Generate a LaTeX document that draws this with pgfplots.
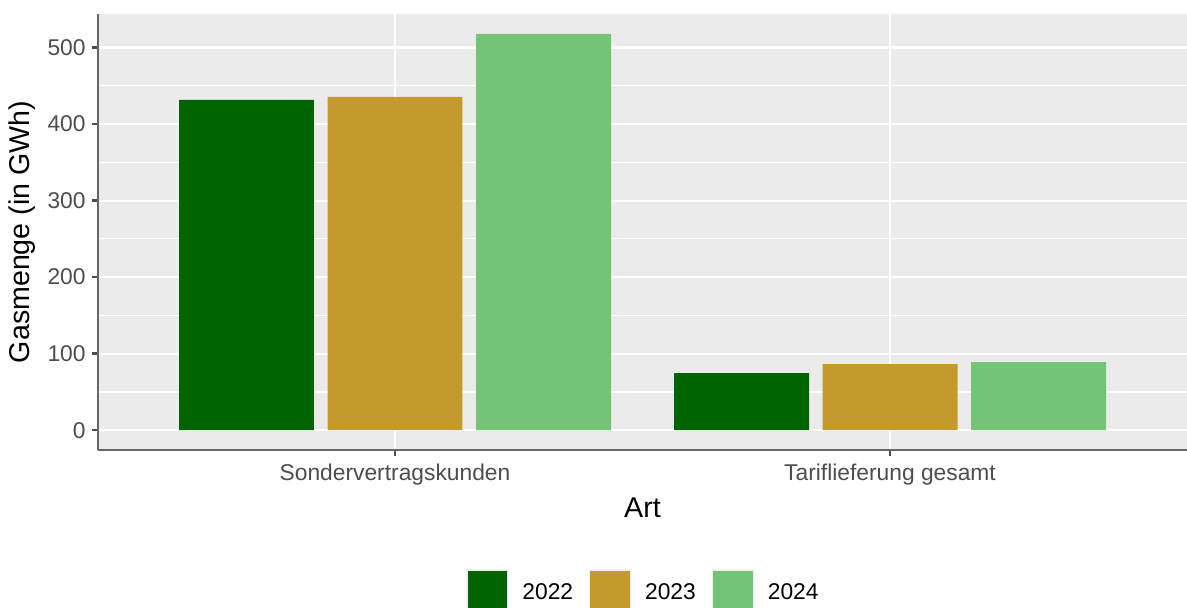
\documentclass[border=0pt]{standalone}
\usepackage{fontspec}
\setmainfont{Liberation Sans}
\usepackage{pgfplots}
\pgfplotsset{compat=1.18}
\definecolor{cA}{HTML}{006400}
\definecolor{cB}{HTML}{C49A2C}
\definecolor{cC}{HTML}{74C476}
\definecolor{panel}{HTML}{EBEBEB}
\definecolor{axgray}{HTML}{666666}
\definecolor{tkgray}{HTML}{4D4D4D}
\begin{document}
\begin{tikzpicture}
\begin{axis}[
  at={(49pt,79pt)}, anchor=south west,
  scale only axis, width=544.5pt, height=218pt,
  xmin=0.4, xmax=2.6, ymin=-25.9, ymax=543.9,
  axis background/.style={fill=panel},
  axis lines*=left,
  axis line style={draw=axgray, line width=1.3pt, -},
  xtick={1,2},
  xticklabels={Sondervertragskunden, Tariflieferung gesamt},
  ytick={0,100,200,300,400,500},
  minor ytick={50,150,250,350,450},
  xmajorgrids, ymajorgrids, yminorgrids,
  major grid style={white, line width=1.1pt},
  minor grid style={white, line width=0.6pt},
  tick align=outside,
  major tick length=3pt, minor tick length=0pt,
  tick style={draw=tkgray, line width=1.2pt},
  tick pos=left,
  /pgf/number format/assume math mode=true,
  ticklabel style={font=\fontsize{11.4}{13}\selectfont, text=tkgray},
  yticklabel style={inner sep=0pt, xshift=-3pt},
  xticklabel style={inner sep=0pt, yshift=-4pt},
  ylabel={Gasmenge (in GWh)},
  xlabel={Art},
  label style={font=\fontsize{14.3}{16}\selectfont},
  ylabel style={at={([xshift=-38pt]axis description cs:0,0.5)}, anchor=center},
  xlabel style={at={([yshift=-28.75pt]axis description cs:0.5,0)}, anchor=center},
  legend columns=3,
  legend style={at={(axis description cs:0.5,-0.273)}, anchor=north,
    draw=none, fill=none, inner sep=0pt,
    font=\fontsize{11.4}{13}\selectfont,
    nodes={inner sep=0pt},
    /tikz/every odd column/.style={column sep=7pt},
    /tikz/every even column/.style={column sep=8pt}},
  legend image code/.code={
    \fill[gray!12] (0pt,-9.4pt) rectangle (21pt,11.6pt);
    \fill[#1] (0.6pt,-8.8pt) rectangle (20.4pt,11pt);
  },
]
\addplot[ybar, bar width=0.2727, bar shift=0pt, fill=cA, draw=none] coordinates {(0.7,431.6) (1.7,74.5)};
\addplot[ybar, bar width=0.2727, bar shift=0pt, fill=cB, draw=none] coordinates {(1.0,435.5) (2.0,86.3)};
\addplot[ybar, bar width=0.2727, bar shift=0pt, fill=cC, draw=none] coordinates {(1.3,517.9) (2.3,88.9)};
\legend{2022,2023,2024}
\end{axis}
\pgfresetboundingbox
\path[use as bounding box] (0,0) rectangle (593.5pt,304pt);
\end{tikzpicture}
\end{document}
